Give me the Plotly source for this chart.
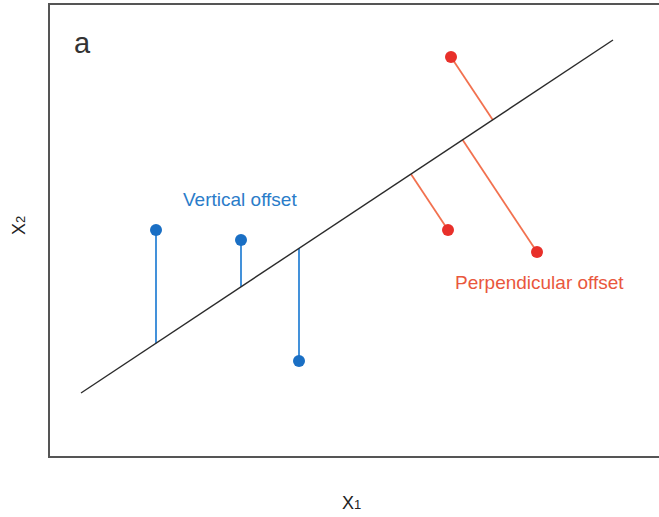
import numpy as np
import plotly.graph_objects as go

# Fitted line end points (x1, x2)
line_x = [31, 563]
line_y = [63, 416]

# Points measured with vertical offsets
blue_x = [106, 191, 249]
blue_y = [226, 216, 95]

# Points measured with perpendicular offsets
red_x = [401, 398, 487]
red_y = [399, 226, 204]

BLUE_LINE = "#2f86d6"
BLUE_DOT = "#1a6fc4"
RED_LINE = "#f2714f"
RED_DOT = "#e8302a"
FONT = "Liberation Sans, Arial, sans-serif"

# plot-area geometry (px)
L, R, T, B = 50, 0, 5, 61
W, H = 659, 517
PW, PH = W - L - R, H - T - B

lx = np.array(line_x, float)
ly = np.array(line_y, float)
slope = (ly[1] - ly[0]) / (lx[1] - lx[0])


def on_line(x):
    return ly[0] + slope * (x - lx[0])


def foot(px, py):
    d = np.array([lx[1] - lx[0], ly[1] - ly[0]])
    a = np.array([lx[0], ly[0]])
    t = np.dot(np.array([px, py]) - a, d) / np.dot(d, d)
    return a + t * d


def paper_x(px):
    return (px - L) / PW


def paper_y(py):
    return (H - B - py) / PH


def axis_label(main, index):
    return f"{main}<span style='font-size:13px'>{index}</span>"


fig = go.Figure()

# Vertical offset segments
for x, y in zip(blue_x, blue_y):
    fig.add_trace(go.Scatter(x=[x, x], y=[y, on_line(x)], mode="lines",
                             line=dict(color=BLUE_LINE, width=1.8),
                             hoverinfo="skip", showlegend=False))

# Perpendicular offset segments
for x, y in zip(red_x, red_y):
    fx, fy = foot(x, y)
    fig.add_trace(go.Scatter(x=[x, fx], y=[y, fy], mode="lines",
                             line=dict(color=RED_LINE, width=1.8),
                             hoverinfo="skip", showlegend=False))

# Fitted line
fig.add_trace(go.Scatter(x=line_x, y=line_y, mode="lines",
                         line=dict(color="#2b2b2b", width=1.4),
                         hoverinfo="skip", showlegend=False))

fig.add_trace(go.Scatter(x=blue_x, y=blue_y, mode="markers",
                         marker=dict(color=BLUE_DOT, size=12),
                         showlegend=False))
fig.add_trace(go.Scatter(x=red_x, y=red_y, mode="markers",
                         marker=dict(color=RED_DOT, size=12),
                         showlegend=False))

annotations = [
    dict(x=paper_x(82), y=paper_y(43), xref="paper", yref="paper", text="a",
         showarrow=False, xanchor="center", yanchor="middle",
         font=dict(size=29, color="#333333", family=FONT)),
    dict(x=190, y=257, xref="x", yref="y", text="Vertical offset", showarrow=False,
         xanchor="center", yanchor="middle",
         font=dict(size=19, color="#2a7cc9", family=FONT)),
    dict(x=489, y=174, xref="x", yref="y", text="Perpendicular offset", showarrow=False,
         xanchor="center", yanchor="middle",
         font=dict(size=19, color="#e9573d", family=FONT)),
    dict(x=paper_x(351), y=paper_y(503), xref="paper", yref="paper",
         text=axis_label("X", "1"), showarrow=False, xanchor="center", yanchor="middle",
         font=dict(size=18, color="#222222", family=FONT)),
    dict(x=paper_x(19), y=paper_y(226), xref="paper", yref="paper",
         text=axis_label("X", "2"), showarrow=False, textangle=-90,
         xanchor="center", yanchor="middle",
         font=dict(size=18, color="#222222", family=FONT)),
]

fig.update_layout(
    width=W, height=H,
    margin=dict(l=L, r=R, t=T, b=B),
    paper_bgcolor="white", plot_bgcolor="white",
    annotations=annotations,
)
fig.update_xaxes(range=[0, 609], showgrid=False, zeroline=False, showticklabels=False,
                 ticks="", showline=True, mirror=True, linecolor="#555555", linewidth=2)
fig.update_yaxes(range=[0, 451], showgrid=False, zeroline=False, showticklabels=False,
                 ticks="", showline=True, mirror=False, linecolor="#555555", linewidth=2)

fig.write_html("out.html")
